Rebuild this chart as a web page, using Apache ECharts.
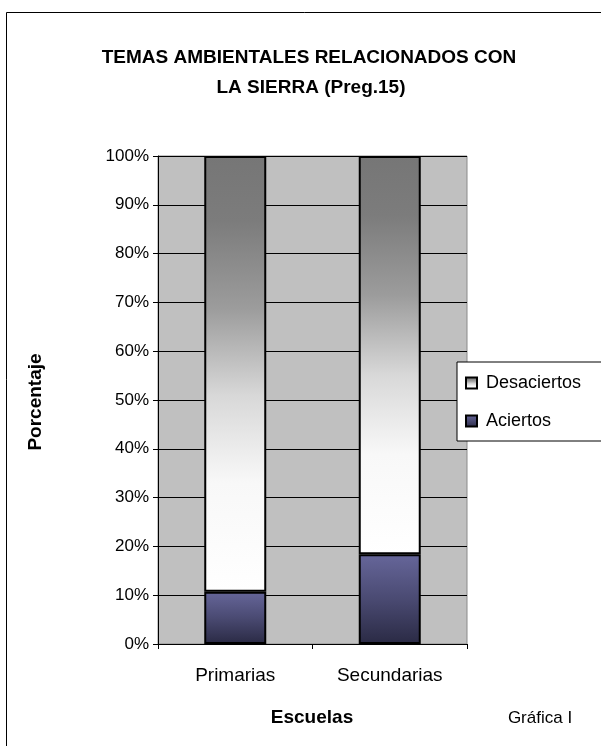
<!DOCTYPE html>
<html><head><meta charset="utf-8">
<script src="https://cdn.jsdelivr.net/npm/echarts@6/dist/echarts.min.js"></script>
<style>html,body{margin:0;padding:0;background:#fff}#c{width:601px;height:746px}</style>
</head><body><div id="c"></div>
<script>
const categories = ['Primarias', 'Secundarias'];
const aciertos = [10.7, 18.4];
const desaciertos = [89.3, 81.6];
const yTicks = [0, 10, 20, 30, 40, 50, 60, 70, 80, 90, 100];

const chart = echarts.init(document.getElementById('c'), null, {renderer: 'canvas'});
const font = 'Liberation Sans, Arial, Helvetica, sans-serif';
const grayGrad = new echarts.graphic.LinearGradient(0, 0, 0, 1, [
  {offset: 0, color: '#767676'},
  {offset: 0.15, color: '#7c7c7c'},
  {offset: 0.35, color: '#9c9c9c'},
  {offset: 0.55, color: '#d8d8d8'},
  {offset: 0.75, color: '#f8f8f8'},
  {offset: 1, color: '#ffffff'}
]);
const blueGrad = new echarts.graphic.LinearGradient(0, 0, 0, 1, [
  {offset: 0, color: '#66669a'},
  {offset: 0.5, color: '#4a4a72'},
  {offset: 1, color: '#2a2a44'}
]);
chart.setOption({
  animation: false,
  textStyle: {fontFamily: font},
  graphic: [
    {type: 'rect', shape: {x: 6.5, y: 12.5, width: 620, height: 760}, style: {fill: 'none', stroke: '#000', lineWidth: 1}, z: 0},
    {type: 'text', style: {text: 'TEMAS AMBIENTALES RELACIONADOS CON', font: 'bold 19px ' + font, fill: '#000', textAlign: 'center', textVerticalAlign: 'middle', x: 309, y: 58}},
    {type: 'text', style: {text: 'LA SIERRA (Preg.15)', font: 'bold 19px ' + font, fill: '#000', textAlign: 'center', textVerticalAlign: 'middle', x: 311, y: 88}},
    {type: 'text', style: {text: 'Escuelas', font: 'bold 19px ' + font, fill: '#000', x: 312, y: 718, textAlign: 'center', textVerticalAlign: 'middle'}},
    {type: 'text', rotation: Math.PI / 2, x: 36, y: 402, style: {text: 'Porcentaje', font: 'bold 19px ' + font, fill: '#000', textAlign: 'center', textVerticalAlign: 'middle'}},
    {type: 'text', style: {text: 'Gráfica I', font: '17px ' + font, fill: '#000', x: 540, y: 718, textAlign: 'center', textVerticalAlign: 'middle'}}
  ],
  grid: {left: 158, right: 134, top: 156, bottom: 102, show: true, backgroundColor: '#c0c0c0', borderColor: '#8a8a8a', borderWidth: 1},
  legend: {
    orient: 'vertical', left: 457, top: 362,
    data: ['Desaciertos', 'Aciertos'],
    icon: 'rect', itemWidth: 11, itemHeight: 11, itemGap: 18,
    padding: [11, 40, 10, 8],
    backgroundColor: '#fff', borderColor: '#000', borderWidth: 1,
    textStyle: {fontSize: 18, lineHeight: 20, color: '#000', fontFamily: font, padding: [0, 0, 0, 4]}
  },
  xAxis: {
    type: 'category', data: categories,
    axisLine: {lineStyle: {color: '#000', width: 1}},
    axisTick: {show: true, alignWithLabel: false, length: 5, lineStyle: {color: '#000'}},
    axisLabel: {fontSize: 19, color: '#000', margin: 22},
    splitLine: {show: false}
  },
  yAxis: {
    type: 'value', min: 0, max: 100, interval: 10,
    axisLine: {show: true, lineStyle: {color: '#000', width: 1}},
    axisTick: {show: true, length: 5, lineStyle: {color: '#000'}},
    axisLabel: {fontSize: 17, color: '#000', margin: 9, formatter: v => yTicks.includes(v) ? v + '%' : ''},
    splitLine: {show: true, lineStyle: {color: '#000', width: 1}}
  },
  series: [
    {name: 'Aciertos', type: 'bar', stack: 's', data: aciertos, barWidth: 62,
     itemStyle: {color: blueGrad, borderColor: '#000', borderWidth: 2}},
    {name: 'Desaciertos', type: 'bar', stack: 's', data: desaciertos, barWidth: 62,
     itemStyle: {color: grayGrad, borderColor: '#000', borderWidth: 2}}
  ]
});
</script></body></html>
